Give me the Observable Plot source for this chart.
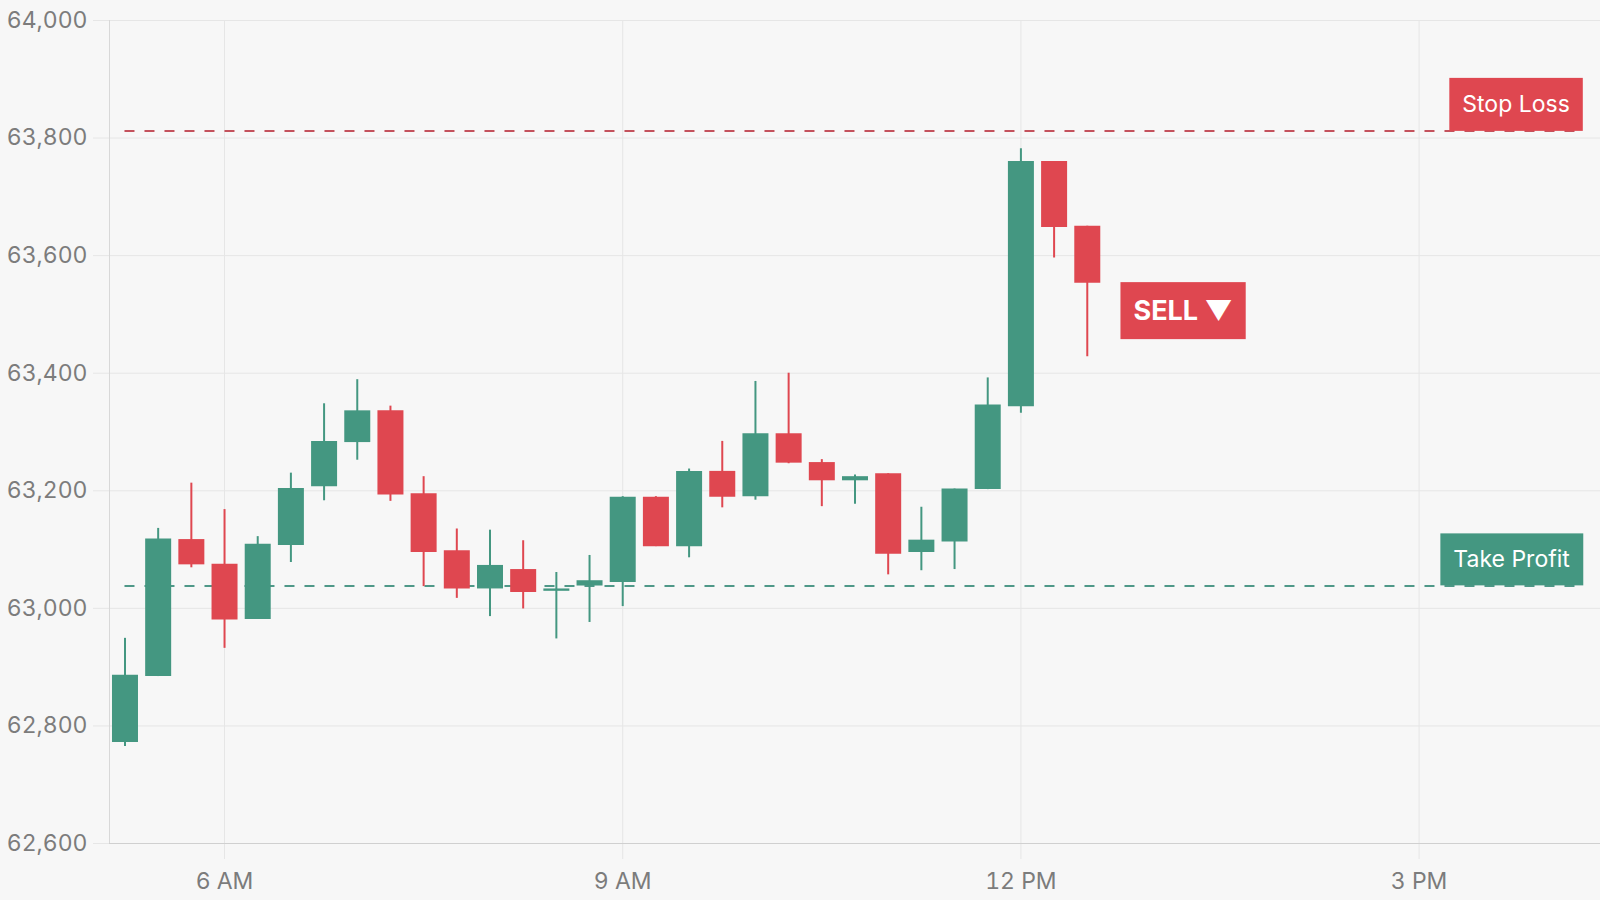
<!doctype html>
<html>
<head>
<meta charset="utf-8">
<style>
  html, body { margin: 0; background: #f7f7f7; }
  #chart { width: 1600px; height: 900px; }
</style>
</head>
<body>
<div id="chart"></div>
<script src="https://cdn.jsdelivr.net/npm/d3@7"></script>
<script src="https://cdn.jsdelivr.net/npm/@observablehq/plot@0.6"></script>
<script>
  // 15-minute candles, UTC clock
  const day = "2024-05-14";
  const times = ["05:15", "05:30", "05:45", "06:00", "06:15", "06:30", "06:45", "07:00", "07:15", "07:30",
                 "07:45", "08:00", "08:15", "08:30", "08:45", "09:00", "09:15", "09:30", "09:45", "10:00",
                 "10:15", "10:30", "10:45", "11:00", "11:15", "11:30", "11:45", "12:00", "12:15", "12:30"];
  const open  = [62772, 62884, 63117, 63075, 62981, 63107, 63207, 63282, 63336, 63195,
                 63098, 63033, 63066, 63029, 63038, 63044, 63189, 63105, 63233, 63190,
                 63297, 63248, 63217, 63229, 63095, 63113, 63202, 63343, 63760, 63650];
  const high  = [62949, 63136, 63213, 63168, 63122, 63230, 63348, 63389, 63344, 63224,
                 63135, 63133, 63115, 63061, 63090, 63190, 63190, 63237, 63284, 63386,
                 63400, 63253, 63227, 63229, 63172, 63203, 63392, 63782, 63760, 63650];
  const low   = [62765, 62884, 63069, 62932, 62981, 63078, 63183, 63252, 63182, 63037,
                 63017, 62986, 62999, 62948, 62976, 63003, 63105, 63086, 63171, 63184,
                 63246, 63173, 63177, 63057, 63064, 63066, 63202, 63332, 63596, 63428];
  const close = [62886, 63118, 63074, 62980, 63109, 63204, 63284, 63336, 63193, 63095,
                 63033, 63073, 63027, 63033, 63047, 63189, 63105, 63233, 63189, 63297,
                 63247, 63217, 63224, 63092, 63116, 63203, 63346, 63760, 63648, 63553];

  const levelNames  = ["Stop Loss", "Take Profit"];
  const levelPrices = [63812, 63038];
  const sellTime = "12:45";
  const sellPrice = 63505;
  const sellText = "SELL ▼";

  const xTicks = ["06:00", "09:00", "12:00", "15:00"];
  const yTicks = [62600, 62800, 63000, 63200, 63400, 63600, 63800, 64000];
  const xExtent = ["05:08", "16:22"];
  const levelEnd = "16:14";

  const up = "#449781";
  const down = "#df4750";
  const levelColors = [down, up];
  const lineColors = ["#c4525c", "#4f9888"];

  const at = (t) => new Date(`${day}T${t}:00Z`);
  const candles = times.map((t, i) => ({
    date: at(t), open: open[i], high: high[i], low: low[i], close: close[i]
  }));
  const rising = (d) => d.close >= d.open;
  const falling = (d) => d.close < d.open;
  const levels = levelNames.map((name, i) => ({ name, price: levelPrices[i], color: levelColors[i], line: lineColors[i] }));

  const plot = Plot.plot({
    width: 1600,
    height: 900,
    marginLeft: 109,
    marginRight: 0,
    marginTop: 20,
    marginBottom: 57,
    style: { background: "#f7f7f7", fontFamily: "Inter, sans-serif", fontSize: "23px", overflow: "visible" },
    x: { type: "utc", domain: xExtent.map(at) },
    y: { domain: [62600, 64000] },
    color: { type: "identity" },
    marks: [
      Plot.gridY(yTicks, { stroke: "#e6e6e6", strokeOpacity: 1 }),
      Plot.gridX(xTicks.map(at), { stroke: "#e6e6e6", strokeOpacity: 1 }),
      Plot.axisY({ ticks: yTicks, tickSize: 16, tickPadding: 6, stroke: "#e6e6e6", fill: "#7c7c7c",
                   tickFormat: d3.format(","), label: null, fontSize: 23 }),
      Plot.axisX({ ticks: xTicks.map(at), tickSize: 16, tickPadding: 13, stroke: "#e6e6e6", fill: "#7c7c7c",
                   tickFormat: d3.utcFormat("%-I %p"), label: null, fontSize: 23 }),
      Plot.ruleX([at(xExtent[0])], { stroke: "#d8d8d8" }),
      Plot.ruleY([62600], { stroke: "#d0d0d0", x1: at(xExtent[0]), x2: at(xExtent[1]) }),

      // stop loss / take profit levels
      Plot.ruleY(levels, { y: "price", x1: candles[0].date, x2: at(levelEnd), stroke: "line",
                           strokeWidth: 2, strokeDasharray: "10,10" }),

      // candles
      Plot.ruleX(candles, { filter: rising, x: "date", y1: "low", y2: "high", stroke: up, strokeWidth: 2 }),
      Plot.ruleX(candles, { filter: falling, x: "date", y1: "low", y2: "high", stroke: down, strokeWidth: 2 }),
      Plot.ruleX(candles, { filter: rising, x: "date", y1: "open", y2: "close", stroke: up, strokeWidth: 26 }),
      Plot.ruleX(candles, { filter: falling, x: "date", y1: "open", y2: "close", stroke: down, strokeWidth: 26 }),

      // tags
      Plot.text(levels, { x: at(levelEnd), y: "price", text: "name", textAnchor: "end",
                          dx: -13, dy: -26, fill: "white", fontSize: 23 }),
      Plot.text([sellText], { x: at(sellTime), y: sellPrice, text: (d) => d, textAnchor: "start",
                              dx: 13, fill: "white", fontSize: 27, fontWeight: "bold" })
    ]
  });

  const div = document.querySelector("#chart");
  div.append(plot);

  // background boxes behind the tag texts (found by their content)
  const tags = [
    { text: levelNames[0], fill: down, padX: 13, h: 53 },
    { text: levelNames[1], fill: up, padX: 13, h: 52 },
    { text: sellText, fill: down, padX: 13, h: 57 }
  ];
  d3.select(plot).selectAll("text").each(function () {
    const tag = tags.find((t) => t.text === this.textContent);
    if (!tag) return;
    const b = this.getBBox();
    const cy = b.y + b.height / 2;
    d3.select(this.parentNode).insert("rect", () => this)
      .attr("transform", this.getAttribute("transform"))
      .attr("x", b.x - tag.padX)
      .attr("y", cy - tag.h / 2)
      .attr("width", b.width + 2 * tag.padX)
      .attr("height", tag.h)
      .attr("fill", tag.fill);
  });
</script>
</body>
</html>
